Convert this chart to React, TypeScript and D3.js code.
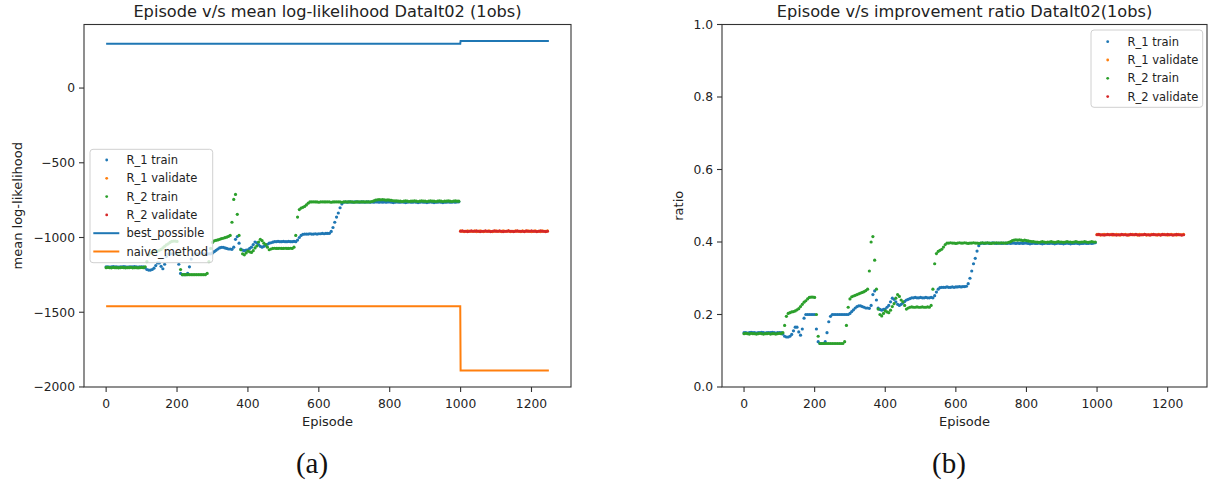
import React, { useEffect } from 'react';
import * as d3 from 'd3';

const W = 1212;
const H = 482;

// ---------- data ----------
const trainStep = 5; // train samples at episodes 0,5,...,995
const validateStart = 1000; // validate samples at 1000,1005,...,1245
const validateStep = 5;
const lastTrainEpisode = 999;
const lastEpisode = 1249;

const xTicks = [0, 200, 400, 600, 800, 1000, 1200];
const llTicks = [-2000, -1500, -1000, -500, 0];
const ratioTicks = [0, 0.2, 0.4, 0.6, 0.8, 1.0];

const bestPossibleTrain = 297;
const bestPossibleValidate = 315;
const naiveTrain = -1460;
const naiveValidate = -1890;

// improvement ratio, R_1 train
const r1TrainRatio = [
  .15,.15,.149,.15,.151,.15,.15,.149,.15,.15,.151,.15,.149,.15,.15,.15,.151,.15,.149,.15,.15,.15,
  .146,.14,.138,.138,.14,.145,.155,.165,.165,.152,.143,.16,.19,.2,.2,.2,.2,.2,.2,.16,.125,.12,.12,.12,.125,.15,.18,.195,.2,
  .2,.2,.2,.2,.2,.2,.2,.2,.2,
  .203,.208,.213,.218,.222,.224,.224,.222,.22,.218,.218,.217,.225,.255,.265,.24,.218,.214,.212,.214,
  .215,.22,.225,.235,.245,.242,.235,.228,.225,.228,.232,.236,.24,.242,.244,
  .246,.246,.247,.246,.246,.247,.246,.246,.247,.246,.246,.247,.246,
  .252,.262,.27,.274,
  .275,.275,.275,.276,.275,.275,.276,.275,.276,.276,.277,.276,.277,.277,.278,
  .285,.3,.32,.34,.355,.375,.39,.396,
  .397,.396,.397,.397,.396,.397,.398,.397,.396,.397,.397,.396,.397,.397,.396,.397,.396,.397,.397,.396,
  .397,.396,.397,.396,.397,.397,.396,.395,.396,.397,.396,.396,.397,.396,.395,.396,.397,.396,.396,.397,
  .396,.395,.396,.397,.396,.396,.395,.396,.397,.396,.395,.396,.396,.397,.396,.395,.396,.396,.397,.396,
  .396,.397,.396,.397,.398,
];

// improvement ratio, R_2 train
const r2TrainRatio = [
  .147,.148,.147,.146,.148,.147,.147,.146,.147,.148,.147,.146,.147,.147,.148,.146,.147,.147,.146,.147,.148,.147,
  .15,.17,.195,.203,.205,.207,.208,.21,.213,.216,.222,.228,.234,.238,.243,.247,.248,.248,.247,.2,.14,.12,
  .12,.12,.12,.12,.12,.12,.12,.12,.12,.12,.12,.12,.12,
  .125,.17,.22,.243,.249,.251,.253,.255,.257,.259,.261,.263,.266,.27,.32,.4,.415,.35,.27,.215,.2,.196,.203,
  .21,.207,.205,.212,.222,.23,.245,.255,.25,.24,.235,.225,.215,.218,.22,
  .221,.22,.22,.221,.22,.22,.221,.22,.22,.221,.22,
  .225,.27,.34,.368,.374,.377,.38,.386,.393,.397,
  .397,.398,.397,.397,.396,.397,.398,.397,.397,.398,.397,.396,.397,.397,.398,.397,.397,.396,.397,.398,
  .397,.397,.398,.397,.396,.397,.397,.398,.397,.397,.398,.397,.397,.398,.399,.401,
  .404,.405,.406,.405,.406,.405,.404,.405,.404,.403,.402,.401,
  .401,.4,.4,.399,.4,.401,.4,.399,.4,.4,.401,.4,.399,.4,.401,.4,.4,.399,.4,.401,
  .4,.4,.399,.4,.401,.4,.399,.4,.4,.401,.4,.399,.4,.401,.4,.4,
];

const r1ValidateRatio = [
  .421,.42,.419,.42,.421,.42,.42,.42,.421,.419,.42,.421,.42,.419,.42,.42,.421,.42,.419,.42,
  .421,.42,.42,.419,.421,.42,.42,.421,.419,.42,.42,.421,.42,.42,.419,.421,.42,.42,.421,.42,
  .419,.42,.421,.42,.42,.419,.421,.42,.42,.421,
];
const r2ValidateRatio = [
  .42,.421,.42,.42,.419,.42,.421,.42,.42,.421,.42,.419,.42,.42,.421,.42,.42,.419,.42,.421,
  .42,.42,.421,.42,.419,.42,.42,.421,.42,.42,.419,.42,.421,.42,.42,.42,.419,.421,.42,.42,
  .421,.42,.42,.419,.42,.421,.42,.42,.419,.42,
];

// mean log-likelihood, R_1 train
const r1TrainLL = [
  -1196,-1196,-1198,-1196,-1195,-1196,-1196,-1198,-1196,-1196,-1195,-1196,-1198,-1196,-1196,-1196,-1195,-1196,-1198,-1196,-1196,-1196,
  -1203,-1214,-1218,-1218,-1214,-1205,-1188,-1170,-1170,-1193,-1209,-1179,-1126,-1109,-1109,-1109,-1109,-1109,-1109,-1179,-1240,-1249,-1249,-1249,-1240,-1196,-1144,-1117,-1109,
  -1109,-1109,-1109,-1109,-1109,-1109,-1109,-1109,-1109,
  -1103,-1095,-1086,-1077,-1070,-1066,-1066,-1070,-1073,-1077,-1077,-1079,-1065,-1012,-994,-1038,-1077,-1084,-1088,-1084,
  -1082,-1073,-1065,-1047,-1030,-1035,-1047,-1059,-1065,-1059,-1052,-1045,-1038,-1035,-1031,
  -1028,-1028,-1026,-1028,-1028,-1026,-1028,-1028,-1026,-1028,-1028,-1026,-1028,
  -1017,-1000,-986,-979,
  -977,-977,-977,-975,-977,-977,-975,-977,-975,-975,-973,-975,-973,-973,-972,
  -959,-933,-898,-863,-836,-801,-775,-764,
  -762,-764,-762,-762,-764,-762,-761,-762,-764,-762,-762,-764,-762,-762,-764,-762,-764,-762,-762,-764,
  -762,-764,-762,-764,-762,-762,-764,-766,-764,-762,-764,-764,-762,-764,-766,-764,-762,-764,-764,-762,
  -764,-766,-764,-762,-764,-764,-766,-764,-762,-764,-766,-764,-764,-762,-764,-766,-764,-764,-762,-764,
  -764,-762,-764,-762,-761,
];

// mean log-likelihood, R_2 train
const r2TrainLL = [
  -1202,-1200,-1202,-1203,-1200,-1202,-1202,-1203,-1202,-1200,-1202,-1203,-1202,-1202,-1200,-1203,-1202,-1202,-1203,-1202,-1200,-1202,
  -1196,-1161,-1117,-1103,-1100,-1096,-1095,-1091,-1086,-1080,-1070,-1059,-1049,-1042,-1033,-1026,-1024,-1024,-1026,-1109,-1214,-1249,
  -1249,-1249,-1249,-1249,-1249,-1249,-1249,-1249,-1249,-1249,-1249,-1249,-1249,
  -1240,-1161,-1073,-1033,-1022,-1019,-1016,-1012,-1008,-1005,-1001,-998,-993,-986,-898,-745,-712,-845,-986,-1082,-1109,-1116,-1103,
  -1091,-1096,-1100,-1088,-1070,-1056,-1030,-1012,-1021,-1038,-1047,-1065,-1082,-1077,-1073,
  -1072,-1073,-1073,-1072,-1073,-1073,-1072,-1073,-1073,-1072,-1073,
  -1065,-986,-863,-813,-803,-798,-792,-782,-770,-762,
  -762,-761,-762,-762,-764,-762,-761,-762,-762,-761,-762,-764,-762,-762,-761,-762,-762,-764,-762,-761,
  -762,-762,-761,-762,-764,-762,-762,-761,-762,-762,-761,-762,-762,-761,-759,-755,
  -750,-748,-747,-748,-747,-748,-750,-748,-750,-752,-754,-755,
  -755,-757,-757,-759,-757,-755,-757,-759,-757,-757,-755,-757,-759,-757,-755,-757,-757,-759,-757,-755,
  -757,-757,-759,-757,-755,-757,-759,-757,-757,-755,-757,-759,-757,-755,-757,-757,
];

const r1ValidateLL = [
  -956,-958,-960,-958,-956,-958,-958,-958,-956,-960,-958,-956,-958,-960,-958,-958,-956,-958,-960,-958,
  -956,-958,-958,-960,-956,-958,-958,-956,-960,-958,-958,-956,-958,-958,-960,-956,-958,-958,-956,-958,
  -960,-958,-956,-958,-958,-960,-956,-958,-958,-956,
];
const r2ValidateLL = [
  -958,-956,-958,-958,-960,-958,-956,-958,-958,-956,-958,-960,-958,-958,-956,-958,-958,-960,-958,-956,
  -958,-958,-956,-958,-960,-958,-958,-956,-958,-958,-960,-958,-956,-958,-958,-958,-960,-956,-958,-958,
  -956,-958,-958,-960,-958,-956,-958,-958,-960,-958,
];

const seriesNames = ['R_1 train', 'R_1 validate', 'R_2 train', 'R_2 validate'];
const lineNames = ['best_possible', 'naive_method'];
const colors = ['#1f77b4', '#ff7f0e', '#2ca02c', '#d62728'];

// ---------- helpers ----------
const padded = (lo: number, hi: number): [number, number] => {
  const m = (hi - lo) * 0.05;
  return [lo - m, hi + m];
};

const trainPoints = (vals: number[]) => vals.map((v, i) => ({ ep: i * trainStep, v }));
const validatePoints = (vals: number[]) => vals.map((v, i) => ({ ep: validateStart + i * validateStep, v }));

const FONT = 'DejaVu Sans, sans-serif';
const TEXT = '#222';

type LegendItem = { label: string; color: string; kind: 'dot' | 'line' };

type PanelProps = {
  x0: number; x1: number; y0: number; y1: number;
  yDomain: [number, number];
  yTicks: number[];
  yFmt: (d: number) => string;
  title: string;
  ylabel: string;
  ylabelX: number;
  scatter: { pts: { ep: number; v: number }[]; color: string }[];
  lines: { pts: { ep: number; v: number }[]; color: string }[];
  legend: { x: number; y: number; w: number; h: number; rowY0: number; items: LegendItem[] };
  caption: string;
  captionX: number;
};

const Panel = (p: PanelProps) => {
  const x = d3.scaleLinear().domain(padded(0, lastEpisode)).range([p.x0, p.x1]);
  const y = d3.scaleLinear().domain(p.yDomain).range([p.y1, p.y0]);
  const line = d3.line<{ ep: number; v: number }>().x(d => x(d.ep)).y(d => y(d.v));
  const cx = (p.x0 + p.x1) / 2;
  const cy = (p.y0 + p.y1) / 2;
  const lg = p.legend;
  return (
    <g>
      <defs>
        <clipPath id={'clip' + p.x0}>
          <rect x={p.x0} y={p.y0} width={p.x1 - p.x0} height={p.y1 - p.y0} />
        </clipPath>
      </defs>
      <g clipPath={`url(#clip${p.x0})`}>
        {p.scatter.map((s, si) => (
          <g key={si} fill={s.color}>
            {s.pts.map((d, i) => (
              <circle key={i} cx={x(d.ep)} cy={y(d.v)} r={1.6} />
            ))}
          </g>
        ))}
        {p.lines.map((l, li) => (
          <path key={li} d={line(l.pts) || ''} fill="none" stroke={l.color} strokeWidth={2} />
        ))}
      </g>
      {/* spines */}
      <rect x={p.x0} y={p.y0} width={p.x1 - p.x0} height={p.y1 - p.y0} fill="none" stroke="#333" strokeWidth={1.1} />
      {/* x ticks */}
      {xTicks.map(t => (
        <g key={t}>
          <line x1={x(t)} x2={x(t)} y1={p.y1} y2={p.y1 + 5} stroke="#333" strokeWidth={1.1} />
          <text x={x(t)} y={p.y1 + 20.5} textAnchor="middle" fontSize={12.3} fontFamily={FONT} fill={TEXT}>{t}</text>
        </g>
      ))}
      {/* y ticks */}
      {p.yTicks.map(t => (
        <g key={t}>
          <line x1={p.x0 - 5} x2={p.x0} y1={y(t)} y2={y(t)} stroke="#333" strokeWidth={1.1} />
          <text x={p.x0 - 9} y={y(t) + 4.4} textAnchor="end" fontSize={12.3} fontFamily={FONT} fill={TEXT}>{p.yFmt(t)}</text>
        </g>
      ))}
      <text x={cx} y={426} textAnchor="middle" fontSize={13} fontFamily={FONT} fill={TEXT}>Episode</text>
      <text transform={`translate(${p.ylabelX},${cy}) rotate(-90)`} textAnchor="middle" dy="0.35em" fontSize={13} fontFamily={FONT} fill={TEXT}>{p.ylabel}</text>
      <text x={cx} y={16.5} textAnchor="middle" fontSize={16.2} fontFamily={FONT} fill={TEXT}>{p.title}</text>
      {/* legend */}
      <g>
        <rect x={lg.x} y={lg.y} width={lg.w} height={lg.h} rx={3} fill="#fff" fillOpacity={0.8} stroke="#d0d0d0" strokeWidth={1} />
        {lg.items.map((it, i) => {
          const ry = lg.rowY0 + i * 18.3;
          return (
            <g key={it.label}>
              {it.kind === 'dot' ? (
                <circle cx={lg.x + 16.7} cy={ry} r={1.4} fill={it.color} />
              ) : (
                <line x1={lg.x + 3.3} x2={lg.x + 29.3} y1={ry} y2={ry} stroke={it.color} strokeWidth={2} />
              )}
              <text x={lg.x + 36.5} y={ry + 4.1} fontSize={11.5} fontFamily={FONT} fill={TEXT}>{it.label}</text>
            </g>
          );
        })}
      </g>
      <text x={p.captionX} y={473} textAnchor="middle" fontSize={29} fontFamily="Liberation Serif, DejaVu Serif, serif" fill="#111">{p.caption}</text>
    </g>
  );
};

const minusFmt = (d: number) => (d < 0 ? '\u2212' + Math.abs(d) : String(d));
const ratioFmt = d3.format('.1f');

export default function App() {
  useEffect(() => {
    document.body.style.margin = '0';
  }, []);

  const bestLine = [
    { ep: 0, v: bestPossibleTrain }, { ep: lastTrainEpisode, v: bestPossibleTrain },
    { ep: validateStart, v: bestPossibleValidate }, { ep: lastEpisode, v: bestPossibleValidate },
  ];
  const naiveLine = [
    { ep: 0, v: naiveTrain }, { ep: lastTrainEpisode, v: naiveTrain },
    { ep: validateStart, v: naiveValidate }, { ep: lastEpisode, v: naiveValidate },
  ];
  const llDomain = padded(Math.min(naiveTrain, naiveValidate), Math.max(bestPossibleTrain, bestPossibleValidate));

  const dotItems: LegendItem[] = seriesNames.map((s, i) => ({ label: s, color: colors[i], kind: 'dot' }));
  const lineItems: LegendItem[] = lineNames.map((s, i) => ({ label: s, color: colors[i], kind: 'line' }));

  return (
    <svg width={W} height={H} style={{ display: 'block', position: 'absolute', left: 0, top: 0, background: '#fff' }}>
      <rect width={W} height={H} fill="#fff" />
      <Panel
        x0={84} x1={571} y0={24.5} y1={387}
        yDomain={llDomain}
        yTicks={llTicks}
        yFmt={minusFmt}
        title="Episode v/s mean log-likelihood DataIt02 (1obs)"
        ylabel="mean log-likelihood"
        ylabelX={17}
        scatter={[
          { pts: trainPoints(r1TrainLL), color: colors[0] },
          { pts: validatePoints(r1ValidateLL), color: colors[1] },
          { pts: trainPoints(r2TrainLL), color: colors[2] },
          { pts: validatePoints(r2ValidateLL), color: colors[3] },
        ]}
        lines={[
          { pts: bestLine, color: colors[0] },
          { pts: naiveLine, color: colors[1] },
        ]}
        legend={{ x: 90, y: 149.3, w: 122.7, h: 113.4, rowY0: 160, items: [...dotItems, ...lineItems] }}
        caption="(a)"
        captionX={312}
      />
      <Panel
        x0={722} x1={1207} y0={24.5} y1={387}
        yDomain={[0, 1]}
        yTicks={ratioTicks}
        yFmt={ratioFmt}
        title="Episode v/s improvement ratio DataIt02(1obs)"
        ylabel="ratio"
        ylabelX={678}
        scatter={[
          { pts: trainPoints(r1TrainRatio), color: colors[0] },
          { pts: validatePoints(r1ValidateRatio), color: colors[1] },
          { pts: trainPoints(r2TrainRatio), color: colors[2] },
          { pts: validatePoints(r2ValidateRatio), color: colors[3] },
        ]}
        lines={[]}
        legend={{ x: 1091, y: 30, w: 111.7, h: 77.3, rowY0: 41.7, items: dotItems }}
        caption="(b)"
        captionX={949}
      />
    </svg>
  );
}
